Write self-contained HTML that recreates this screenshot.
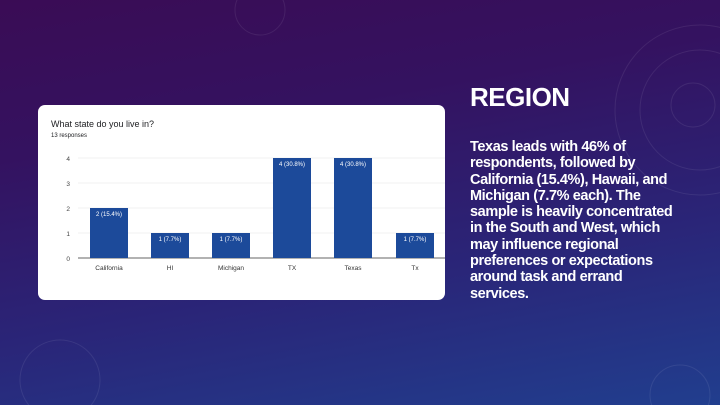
<!DOCTYPE html>
<html><head><style>
body{margin:0;width:720px;height:405px;overflow:hidden;font-family:"Liberation Sans",sans-serif;
background:linear-gradient(170deg,#3a0c55 0%,#341260 30%,#2a2578 65%,#213e8e 100%);position:relative}
.card{position:absolute;left:38px;top:105px;width:407px;height:195px;background:#fff;border-radius:7px}
.t{position:absolute;color:#202124}
.h{position:absolute;left:470px;top:82px;color:#fff;font-weight:bold;font-size:26px;letter-spacing:-0.5px}
.p{position:absolute;left:470px;top:139px;width:260px;color:#fff;font-size:14.5px;font-weight:bold;line-height:16.3px;letter-spacing:-0.4px;white-space:nowrap}
</style></head><body>
<svg width="720" height="405" style="position:absolute;left:0;top:0" fill="none" stroke="rgba(255,255,255,0.08)">
<circle cx="700" cy="110" r="85"/><circle cx="700" cy="110" r="60"/><circle cx="693" cy="105" r="22"/>
<circle cx="680" cy="395" r="30"/><circle cx="60" cy="380" r="40"/><circle cx="260" cy="10" r="25"/>
</svg>
<div class="card"></div>
<div class="t" style="left:51px;top:119px;font-size:9px">What state do you live in?</div>
<div class="t" style="left:51px;top:133px;font-size:6px">13 responses</div>
<svg width="720" height="405" style="position:absolute;left:0;top:0" font-family="Liberation Sans" font-size="6.5">
<g stroke="#e6e6e6" stroke-width="0.6">
<line x1="78" x2="445" y1="158" y2="158"/><line x1="78" x2="445" y1="183" y2="183"/>
<line x1="78" x2="445" y1="208" y2="208"/><line x1="78" x2="445" y1="233" y2="233"/></g>
<line x1="78" x2="445" y1="258" y2="258" stroke="#333" stroke-width="0.8"/>
<g fill="#444" text-anchor="end"><text x="70" y="161">4</text><text x="70" y="186">3</text><text x="70" y="211">2</text><text x="70" y="236">1</text><text x="70" y="261">0</text></g>
<g fill="#1c4a9a">
<rect x="90" y="208" width="38" height="50"/><rect x="151" y="233" width="38" height="25"/>
<rect x="212" y="233" width="38" height="25"/><rect x="273" y="158" width="38" height="100"/>
<rect x="334" y="158" width="38" height="100"/><rect x="396" y="233" width="38" height="25"/></g>
<g fill="#fff" text-anchor="middle" font-size="6">
<text x="109" y="216">2 (15.4%)</text><text x="170" y="241">1 (7.7%)</text><text x="231" y="241">1 (7.7%)</text>
<text x="292" y="166">4 (30.8%)</text><text x="353" y="166">4 (30.8%)</text><text x="415" y="241">1 (7.7%)</text></g>
<g fill="#333" text-anchor="middle">
<text x="109" y="270">California</text><text x="170" y="270">HI</text><text x="231" y="270">Michigan</text>
<text x="292" y="270">TX</text><text x="353" y="270">Texas</text><text x="415" y="270">Tx</text></g>
</svg>
<div class="h">REGION</div>
<div class="p">Texas leads with 46% of<br>respondents, followed by<br>California (15.4%), Hawaii, and<br>Michigan (7.7% each). The<br>sample is heavily concentrated<br>in the South and West, which<br>may influence regional<br>preferences or expectations<br>around task and errand<br>services.</div>
</body></html>
